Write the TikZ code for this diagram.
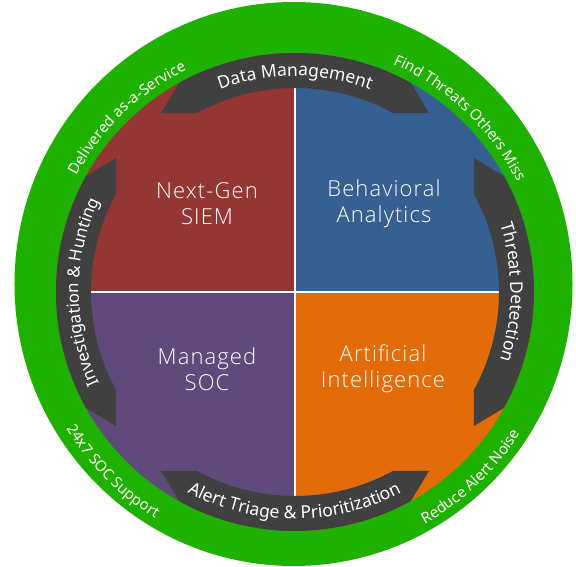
\documentclass[tikz,border=0pt]{standalone}
\usepackage{fontspec}
\usetikzlibrary{decorations.text}
\newfontfamily\ringfont{Noto Sans}
\IfFontExistsTF{Open Sans Light}
  {\newfontfamily\quadfont{Open Sans Light}[LetterSpace=5]}
  {\IfFontExistsTF{Lato Light}
    {\newfontfamily\quadfont{Lato Light}[LetterSpace=6]}
    {\newfontfamily\quadfont{Fira Sans}[LetterSpace=3]}}
\newcommand\bandtextfont{\ringfont\fontsize{17.5}{20}\selectfont}
\newcommand\sidebandfont{\ringfont\fontsize{16.8}{20}\selectfont}
\newcommand\greentextfont{\ringfont\fontsize{15}{17}\selectfont}
\definecolor{ringgreen}{RGB}{31,177,0}
\definecolor{bandgray}{RGB}{64,64,64}
\definecolor{siemred}{RGB}{148,54,52}
\definecolor{bablue}{RGB}{54,96,146}
\definecolor{socpurple}{RGB}{96,74,123}
\definecolor{aiorange}{RGB}{227,108,9}
\begin{document}
\begin{tikzpicture}[x=1pt,y=1pt,
  quadlabel/.style={text=white, font=\quadfont\fontsize{22}{26}\selectfont, align=center},
  bandshape/.style={fill=bandgray},
  arctext/.style={decorate, decoration={text along path, text align=center, text color=white, text={#1}}}
  ]
\useasboundingbox (-295,-275) rectangle (281,292);
% outer green ring
\fill[ringgreen] (-1.5,8) ellipse [x radius=279, y radius=282];
% four quadrants
\fill[bablue] (0,0) -- (0:239) arc[start angle=0, end angle=90, radius=239] -- cycle;
\fill[siemred] (0,0) -- (90:239) arc[start angle=90, end angle=180, radius=239] -- cycle;
\fill[socpurple] (0,0) -- (180:239) arc[start angle=180, end angle=270, radius=239] -- cycle;
\fill[aiorange] (0,0) -- (270:239) arc[start angle=270, end angle=360, radius=239] -- cycle;
% white dividers
\draw[white, line width=1.6] (-239,0) -- (239,0);
\draw[white, line width=1.6] (0,-239) -- (0,239);
% four curved arrow bands
\foreach \ang in {0,-90,-180,-270} {
  \begin{scope}[rotate=\ang]
    \fill[bandshape] (61:239) arc[start angle=61, end angle=119, radius=239]
      -- (-134,179) -- (118.7:204) arc[start angle=118.7, end angle=61.3, radius=204]
      -- (134,179) -- cycle;
  \end{scope}
}
% band labels
\path[arctext={|\color{white}\bandtextfont|Data Management}]
  (130:216) arc[start angle=130, end angle=50, radius=216];
\path[arctext={|\color{white}\bandtextfont|Threat Detection}]
  (40:216) arc[start angle=40, end angle=-40, radius=216];
\path[arctext={|\color{white}\sidebandfont|Investigation {\&} Hunting}]
  (220:216) arc[start angle=220, end angle=140, radius=216];
\path[arctext={|\color{white}\bandtextfont|Alert Triage {\&} Prioritization}]
  (215:227) arc[start angle=215, end angle=325, radius=227];
% outer ring labels
\path[arctext={|\color{white}\greentextfont|Delivered as-a-Service}]
  (170:247) arc[start angle=170, end angle=98, radius=247];
\path[arctext={|\color{white}\greentextfont|Find Threats Others Miss}]
  (85:248) arc[start angle=85, end angle=8, radius=248];
\path[arctext={|\color{white}\greentextfont|24x7 SOC Support}]
  (190:266) arc[start angle=190, end angle=259.2, radius=266];
\path[arctext={|\color{white}\greentextfont|Reduce Alert Noise}]
  (280:266) arc[start angle=280, end angle=347.2, radius=266];
% quadrant titles
\node[quadlabel] (siem) at (-88,88) {Next-Gen\\SIEM};
\node[quadlabel] (behav) at (89,88) {Behavioral\\Analytics};
\node[quadlabel] (soc) at (-88,-77) {Managed\\SOC};
\node[quadlabel] (ai) at (88,-77) {Artificial\\Intelligence};
\end{tikzpicture}
\end{document}
